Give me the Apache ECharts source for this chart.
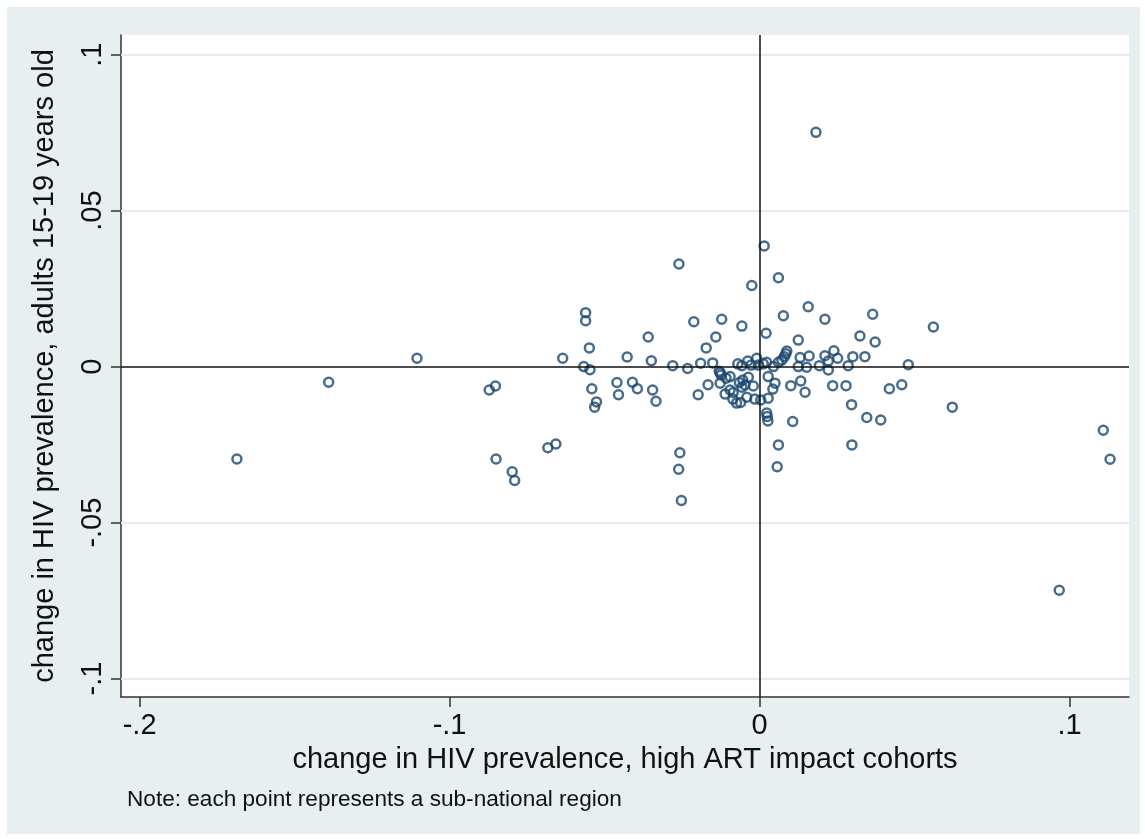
<!DOCTYPE html>
<html>
<head>
<meta charset="utf-8">
<script src="https://cdn.jsdelivr.net/npm/echarts@6/dist/echarts.min.js"></script>
<style>
html,body{margin:0;padding:0;background:#ffffff;}
#chart{position:absolute;left:7px;top:7px;width:1133px;height:827px;}
</style>
</head>
<body>
<div id="chart"></div>
<script>
// change in HIV prevalence, high ART impact cohorts
const xValues = [
 -0.1686,-0.1390,-0.1105,-0.0872,-0.0852,-0.0850,-0.0798,-0.0790,-0.0683,-0.0657,
 -0.0635,-0.0561,-0.0561,-0.0549,-0.0567,-0.0547,-0.0541,-0.0526,-0.0532,-0.0460,
 -0.0455,-0.0427,-0.0410,-0.0394,-0.0359,-0.0349,-0.0345,-0.0334,-0.0260,-0.0280,
 -0.0232,-0.0212,-0.0198,-0.0190,-0.0172,-0.0166,-0.0151,-0.0141,-0.0122,-0.0130,
 -0.0124,-0.0108,-0.0127,-0.0057,-0.0025,0.0015,0.0021,-0.0257,-0.0261,-0.0252,
 -0.0070,-0.0057,-0.0038,-0.0027,-0.0009,-0.0004,0.0012,0.0023,0.0045,0.0061,
 0.0072,0.0080,0.0088,-0.0095,-0.0127,-0.0065,-0.0054,-0.0047,-0.0057,-0.0036,
 -0.0020,-0.0095,-0.0085,-0.0111,-0.0086,-0.0074,-0.0061,-0.0041,-0.0015,0.0004,
 0.0028,0.0028,0.0050,0.0043,0.0101,0.0133,0.0147,0.0023,0.0025,0.0027,
 0.0107,0.0061,0.0057,0.0061,0.0157,0.0077,0.0211,0.0365,0.0561,0.0324,
 0.0373,0.0125,0.0085,0.0131,0.0160,0.0211,0.0240,0.0252,0.0301,0.0340,
 0.0480,0.0125,0.0152,0.0193,0.0222,0.0222,0.0286,0.0236,0.0279,0.0419,
 0.0459,0.0297,0.0346,0.0391,0.0622,0.0298,0.0182,0.1109,0.1131,0.0967
];
// change in HIV prevalence, adults 15-19 years old
const yValues = [
 -0.0296,-0.0050,0.0027,-0.0075,-0.0062,-0.0296,-0.0337,-0.0365,-0.0260,-0.0248,
 0.0027,0.0173,0.0147,0.0060,0.0000,-0.0010,-0.0071,-0.0113,-0.0130,-0.0051,
 -0.0090,0.0031,-0.0050,-0.0071,0.0095,0.0019,-0.0075,-0.0111,0.0329,0.0003,
 -0.0006,0.0144,-0.0090,0.0011,0.0060,-0.0058,0.0012,0.0095,0.0152,-0.0015,
 -0.0027,-0.0037,-0.0053,0.0130,0.0260,0.0387,0.0107,-0.0276,-0.0329,-0.0429,
 0.0009,0.0003,0.0018,0.0005,0.0027,0.0005,0.0009,0.0014,0.0000,0.0014,
 0.0021,0.0032,0.0050,-0.0032,-0.0020,-0.0051,-0.0043,-0.0059,-0.0066,-0.0034,
 -0.0062,-0.0075,-0.0083,-0.0088,-0.0104,-0.0117,-0.0115,-0.0098,-0.0104,-0.0107,
 -0.0101,-0.0032,-0.0053,-0.0072,-0.0061,-0.0046,-0.0082,-0.0149,-0.0160,-0.0174,
 -0.0176,-0.0251,-0.0321,0.0285,0.0192,0.0163,0.0152,0.0168,0.0127,0.0098,
 0.0079,0.0085,0.0041,0.0029,0.0034,0.0035,0.0051,0.0027,0.0032,0.0032,
 0.0006,0.0000,-0.0002,0.0003,0.0018,-0.0011,0.0003,-0.0061,-0.0061,-0.0071,
 -0.0058,-0.0122,-0.0163,-0.0171,-0.0130,-0.0251,0.0751,-0.0204,-0.0297,-0.0717
];
const xTicks = [-0.2, -0.1, 0, 0.1];
const yTicks = [-0.1, -0.05, 0, 0.05, 0.1];
const xTitle = 'change in HIV prevalence, high ART impact cohorts';
const yTitle = 'change in HIV prevalence, adults 15-19 years old';
const noteText = 'Note: each point represents a sub-national region';

const points = xValues.map((x, i) => [x, yValues[i]]);
const fmt = v => (v === 0 ? '0' : String(v).replace('0.', '.'));
const FONT = '"Liberation Sans", Arial, Helvetica, sans-serif';
const gridLineData = yTicks.filter(v => v !== 0).map(v => ({ yAxis: v }));

const chart = echarts.init(document.getElementById('chart'));
chart.setOption({
  backgroundColor: '#e8eff0',
  animation: false,
  textStyle: { fontFamily: FONT },
  title: {
    text: noteText,
    left: 120,
    top: 781,
    padding: 0,
    textStyle: { fontSize: 22.6, fontWeight: 'normal', color: '#111', fontFamily: FONT }
  },
  grid: { left: 114, top: 28, width: 1008, height: 662, show: true, backgroundColor: '#ffffff', borderWidth: 0 },
  xAxis: {
    type: 'value',
    min: -0.206, max: 0.1192,
    name: xTitle,
    nameLocation: 'middle',
    nameGap: 48,
    nameTextStyle: { fontSize: 29, color: '#111', fontFamily: FONT },
    axisLine: { show: true, onZero: false, lineStyle: { color: '#333', width: 1.5 } },
    axisTick: { show: true, length: 10, customValues: xTicks, lineStyle: { color: '#333', width: 1.5 } },
    axisLabel: { customValues: xTicks, formatter: fmt, fontSize: 29, color: '#111', margin: 14, fontFamily: FONT },
    splitLine: { show: false }
  },
  yAxis: {
    type: 'value',
    min: -0.1059, max: 0.1063,
    name: yTitle,
    nameLocation: 'middle',
    nameGap: 62,
    nameRotate: 90,
    nameTextStyle: { fontSize: 29, color: '#111', fontFamily: FONT },
    axisLine: { show: true, onZero: false, lineStyle: { color: '#333', width: 1.5 } },
    axisTick: { show: true, length: 10, customValues: yTicks, lineStyle: { color: '#333', width: 1.5 } },
    axisLabel: { customValues: yTicks, formatter: fmt, fontSize: 29, color: '#111', margin: 14, rotate: 90, fontFamily: FONT },
    splitLine: { show: false }
  },
  series: [
    {
      type: 'scatter',
      data: [],
      z: 1,
      silent: true,
      markLine: {
        silent: true,
        symbol: 'none',
        label: { show: false },
        lineStyle: { color: '#e3ecef', width: 2, type: 'solid' },
        data: gridLineData
      }
    },
    {
      type: 'scatter',
      data: [],
      z: 2,
      silent: true,
      markLine: {
        silent: true,
        symbol: 'none',
        label: { show: false },
        lineStyle: { color: '#111', width: 1.5, type: 'solid' },
        data: [{ xAxis: 0 }, { yAxis: 0 }]
      }
    },
    {
      type: 'scatter',
      z: 3,
      data: points,
      symbol: 'circle',
      symbolSize: 9,
      itemStyle: { color: 'rgba(0,0,0,0)', borderColor: '#1a476f', borderWidth: 2.5 }
    }
  ]
});
</script>
</body>
</html>
